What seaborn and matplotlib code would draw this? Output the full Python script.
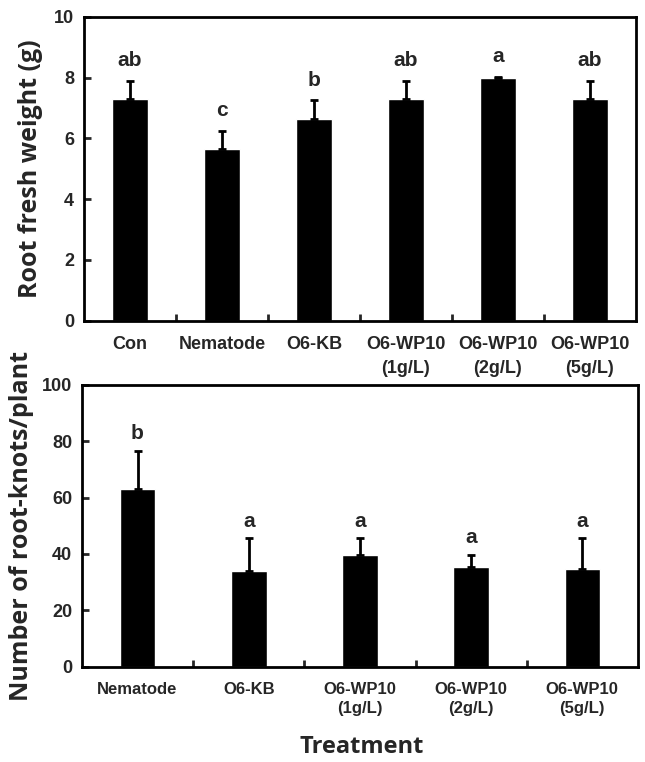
import numpy as np
import pandas as pd
import matplotlib
matplotlib.use("Agg")
import matplotlib.pyplot as plt
from matplotlib.ticker import FixedLocator
import seaborn as sns

# Dados - peso fresco da raiz
trat_peso = ["Con", "Nematode", "O6-KB", "O6-WP10\n(1g/L)", "O6-WP10\n(2g/L)", "O6-WP10\n(5g/L)"]
peso_media = [7.3, 5.65, 6.65, 7.3, 7.98, 7.3]
peso_erro = [0.6, 0.6, 0.6, 0.6, 0.04, 0.6]
peso_letras = ["ab", "c", "b", "ab", "a", "ab"]

# Dados - número de galhas
trat_galhas = ["Nematode", "O6-KB", "O6-WP10\n(1g/L)", "O6-WP10\n(2g/L)", "O6-WP10\n(5g/L)"]
galhas_media = [63.2, 34.1, 39.8, 35.4, 34.5]
galhas_erro = [13.5, 11.7, 5.8, 4.4, 11.3]
galhas_letras = ["b", "a", "a", "a", "a"]

sns.set_style("white")
plt.rcParams["font.family"] = ["Liberation Sans", "DejaVu Sans"]
fonte_ticks = ["Liberation Sans", "DejaVu Sans"]
label_font = ["Open Sans", "DejaVu Sans"]

fig = plt.figure(figsize=(6.45, 7.62), dpi=100)
ax1 = fig.add_axes([0.130, 0.579, 0.856, 0.399])
ax2 = fig.add_axes([0.127, 0.125, 0.862, 0.370])


def desenha(ax, cats, media, erro, letras, largura, ymax, passo, off, tam_ticks, esp):
    df = pd.DataFrame({"Tratamento": cats, "Media": media})
    sns.barplot(data=df, x="Tratamento", y="Media", color="black", width=largura,
                errorbar=None, saturation=1, ax=ax)
    x = np.arange(len(cats))
    ax.errorbar(x, media, yerr=[np.zeros(len(erro)), erro], fmt="none",
                ecolor="black", elinewidth=2, capsize=3, capthick=2)
    for xi, m, e, l in zip(x, media, erro, letras):
        ax.text(xi, m + e + off, l, ha="center", va="bottom", fontsize=15,
                fontweight="bold", family=fonte_ticks)
    ax.set_xlim(-0.5, len(cats) - 0.5)
    ax.set_ylim(0, ymax)
    ax.set_yticks(np.arange(0, ymax + passo / 2, passo))
    ax.set_xlabel("")
    for s in ax.spines.values():
        s.set_visible(True)
        s.set_color("black")
        s.set_linewidth(2)
    ax.xaxis.set_minor_locator(FixedLocator(x[:-1] + 0.5))
    ax.tick_params(axis="x", which="major", length=0, pad=11)
    ax.tick_params(axis="x", which="minor", direction="in", length=5, width=2, bottom=True)
    ax.tick_params(axis="y", direction="in", length=5, width=2, left=True, pad=7)
    for t in ax.get_xticklabels():
        t.set_fontfamily(fonte_ticks)
        t.set_fontweight("bold")
        t.set_fontsize(tam_ticks)
        t.set_linespacing(esp)
    for t in ax.get_yticklabels():
        t.set_fontfamily(fonte_ticks)
        t.set_fontweight("bold")
        t.set_fontsize(13)


desenha(ax1, trat_peso, peso_media, peso_erro, peso_letras, 0.39, 10, 2, 0.35, 13, 1.5)
desenha(ax2, trat_galhas, galhas_media, galhas_erro, galhas_letras, 0.32, 100, 20, 2.5, 12, 1.35)

ax1.set_ylabel("Root fresh weight (g)", fontsize=18, fontweight="bold", family=label_font, labelpad=8)
ax2.set_ylabel("Number of root-knots/plant", fontsize=18, fontweight="bold", family=label_font, labelpad=6)
fig.text(0.561, 0.02, "Treatment", ha="center", va="center", fontsize=17,
         fontweight="bold", family=label_font)

plt.savefig("out.png", dpi=100)
plt.close()
